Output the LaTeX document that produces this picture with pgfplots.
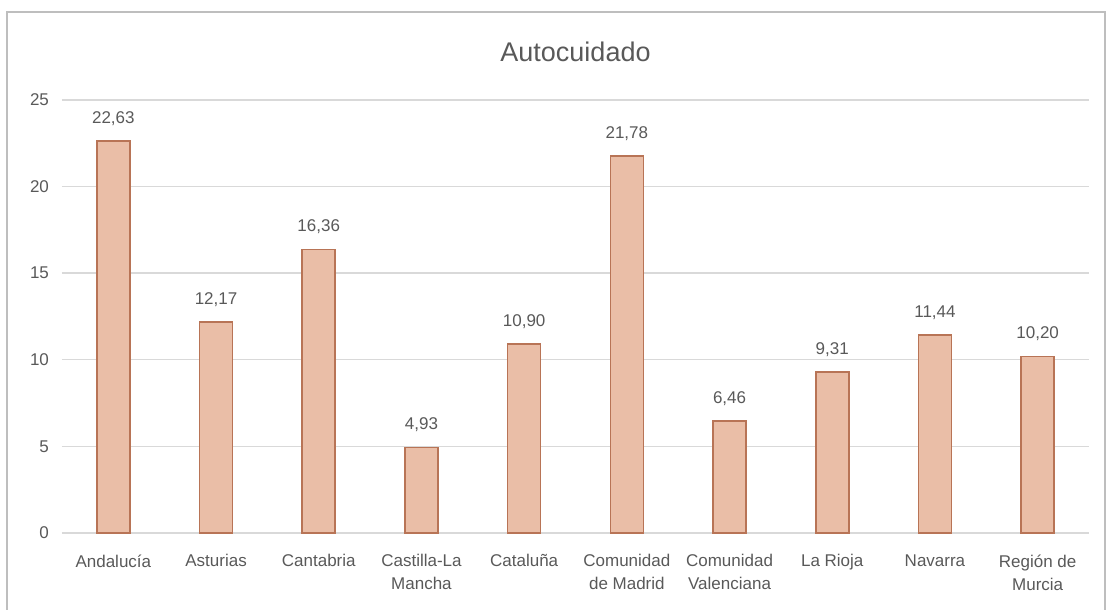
\documentclass[border=0pt]{standalone}
\usepackage{fontspec}
\setmainfont{Liberation Sans}
\usepackage{pgfplots}
\pgfplotsset{compat=1.18}
\definecolor{barfill}{RGB}{234,190,167}
\definecolor{barline}{RGB}{184,116,86}
\definecolor{gridc}{RGB}{217,217,217}
\definecolor{txt}{RGB}{89,89,89}
\definecolor{framec}{RGB}{190,190,190}
\begin{document}
\begin{tikzpicture}
\useasboundingbox (-31pt,-38.5pt) rectangle (523pt,266.5pt);
\draw[framec, line width=0.7pt] (-27.5pt,-50pt) rectangle (521.5pt,260.5pt);
\begin{axis}[
    name=ax,
    at={(0,0)}, anchor=south west,
    scale only axis,
    width=513.5pt, height=216.5pt,
    xmin=-0.5, xmax=9.5,
    ymin=0, ymax=25,
    ybar, bar width=16.5pt,
    xtick={0,...,9},
    xticklabels={Andaluc\'ia,Asturias,Cantabria,{Castilla-La\\Mancha},Catalu\~na,{Comunidad\\de Madrid},{Comunidad\\Valenciana},La Rioja,Navarra,{Regi\'on de\\Murcia}},
    ytick={0,5,10,15,20,25},
    ymajorgrids=true,
    grid style={gridc, line width=0.7pt},
    axis line style={draw=none},
    tick style={draw=none},
    /pgf/number format/assume math mode=true,
    tick label style={font=\fontsize{8.5}{11.5}\selectfont, text=txt},
    xticklabel style={align=center, yshift=-3pt},
    yticklabel style={xshift=-3pt},
    nodes near coords={\pgfmathprintnumber[fixed,fixed zerofill,precision=2,use comma]{\pgfplotspointmeta}},
    every node near coord/.append style={font=\fontsize{8.5}{10}\selectfont, text=txt, yshift=4pt},
    clip=false,
]
\addplot[fill=barfill, draw=barline, line width=0.8pt] coordinates {
    (0,22.63) (1,12.17) (2,16.36) (3,4.93) (4,10.90)
    (5,21.78) (6,6.46) (7,9.31) (8,11.44) (9,10.20)
};
\node[font=\fontsize{13.5}{16}\selectfont, text=txt] at ([yshift=24pt]rel axis cs:0.5,1) {Autocuidado};
\end{axis}
\end{tikzpicture}
\end{document}
